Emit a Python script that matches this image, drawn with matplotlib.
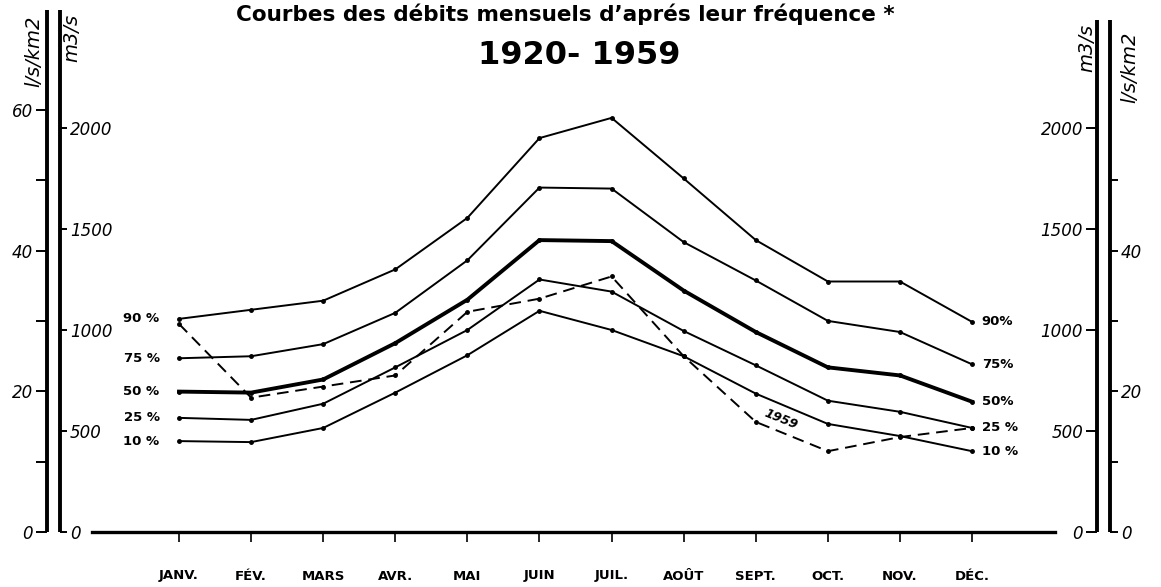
import numpy as np
import matplotlib
matplotlib.use("Agg")
import matplotlib.pyplot as plt

# monthly discharge (m3/s) by frequency, 1920-1959
months = ['JANV.', 'FÉV.', 'MARS', 'AVR.', 'MAI', 'JUIN',
          'JUIL.', 'AOÛT', 'SEPT.', 'OCT.', 'NOV.', 'DÉC.']
q90 = [1055, 1100, 1145, 1300, 1555, 1950, 2050, 1750, 1445, 1240, 1240, 1040]
q75 = [860, 870, 930, 1085, 1345, 1705, 1700, 1435, 1245, 1045, 990, 830]
q50 = [695, 690, 755, 935, 1150, 1445, 1440, 1195, 990, 815, 775, 645]
q25 = [565, 555, 635, 815, 1000, 1250, 1190, 995, 825, 650, 595, 515]
q10 = [450, 445, 515, 690, 875, 1095, 1000, 870, 685, 535, 475, 400]
q1959 = [1030, 665, 720, 775, 1090, 1155, 1265, 870, 545, 400, 470, 515]
pct_left = ['90 %', '75 %', '50 %', '25 %', '10 %']
pct_right = ['90%', '75%', '50%', '25 %', '10 %']

# axis scales
m3s_ticks = [0, 500, 1000, 1500, 2000]
lskm_left = [0, 20, 40, 60]
lskm_right = [0, 20, 40]
lskm_minor = [10, 30, 50]

W, H = 1161, 587
fig = plt.figure(figsize=(W / 100, H / 100), dpi=100)

def fx(px):
    return px / W

def fy(py):
    return 1 - py / H

rect = [fx(47), fy(532), fx(1110) - fx(47), fy(10) - fy(532)]
xlim = (-1.831, 12.913)
ylim_q = (0, 2584)
ylim_l = (0, 74.25)

ax = fig.add_axes(rect)
ax.set_xlim(*xlim)
ax.set_ylim(*ylim_q)
ax.patch.set_visible(False)
x = np.arange(len(months))

series = [q90, q75, q50, q25, q10]
for vals, lab_l, lab_r in zip(series, pct_left, pct_right):
    lw = 2.8 if lab_l == '50 %' else 1.4
    ax.plot(x, vals, color='black', lw=lw, marker='o', ms=2.5)
    ax.annotate(lab_l, (x[0], vals[0]), xytext=(-14, 0), textcoords='offset points',
                ha='right', va='center', fontsize=9.5, fontweight='bold')
    ax.annotate(lab_r, (x[-1], vals[-1]), xytext=(7, 0), textcoords='offset points',
                ha='left', va='center', fontsize=9.5, fontweight='bold')

ax.plot(x, q1959, color='black', lw=1.4, ls=(0, (6, 3.5)), marker='o', ms=2.5)
ax.text(8.35, 560, '1959', rotation=-22, fontsize=9, fontweight='bold',
        style='italic', ha='center', va='center')

for s in ['top', 'left', 'right']:
    ax.spines[s].set_visible(False)
ax.spines['bottom'].set_linewidth(2.4)
ax.spines['bottom'].set_bounds(-1.207, 12.15)
ax.set_yticks([])
ax.set_xticks(x)
ax.set_xticklabels(months, fontsize=9.5, fontweight='bold')
ax.tick_params(axis='x', length=7, width=1.2, pad=20)


def scale_axis(ylim, side, pos, top, major, minor, tick_len):
    a = fig.add_axes(rect)
    a.patch.set_visible(False)
    a.set_xlim(*xlim)
    a.set_ylim(*ylim)
    a.xaxis.set_visible(False)
    for s in ['top', 'bottom', 'left', 'right']:
        a.spines[s].set_visible(s == side)
    a.spines[side].set_position(('axes', pos))
    a.spines[side].set_bounds(0, top)
    a.spines[side].set_linewidth(2.8)
    a.spines[side].set_capstyle('butt')
    a.yaxis.set_ticks_position(side)
    a.set_yticks(major)
    a.set_yticklabels([str(v) for v in major], fontsize=12, style='italic')
    if minor:
        a.set_yticks(minor, minor=True)
    a.tick_params(axis='y', which='major', length=tick_len, width=1.4, pad=2)
    a.tick_params(axis='y', which='minor', length=tick_len, width=1.4)
    return a


scale_axis(ylim_l, 'left', 0.0, 74.25, lskm_left, lskm_minor, 8)
scale_axis(ylim_q, 'right', (60 - 47) / 1063, 2584, m3s_ticks, None, 5)
scale_axis(ylim_q, 'left', (1097 - 47) / 1063, 2535, m3s_ticks, None, 8)
scale_axis(ylim_l, 'right', 1.0, 72.8, lskm_right, lskm_minor, 6)

# unit names
fig.text(fx(34), fy(51), 'l/s/km2', rotation=90, ha='center', va='center',
         fontsize=14, style='italic')
fig.text(fx(72), fy(38), 'm3/s', rotation=90, ha='center', va='center',
         fontsize=14, style='italic')
fig.text(fx(1087), fy(48), 'm3/s', rotation=90, ha='center', va='center',
         fontsize=14, style='italic')
fig.text(fx(1130), fy(67), 'l/s/km2', rotation=90, ha='center', va='center',
         fontsize=14, style='italic')

# title
fig.text(fx(565), fy(14), "Courbes des débits mensuels d’aprés leur fréquence *",
         ha='center', va='center', fontsize=15.5, fontweight='bold')
fig.text(fx(579), fy(55), '1920- 1959', ha='center', va='center',
         fontsize=23, fontweight='bold')

fig.savefig('out.png', dpi=100)
